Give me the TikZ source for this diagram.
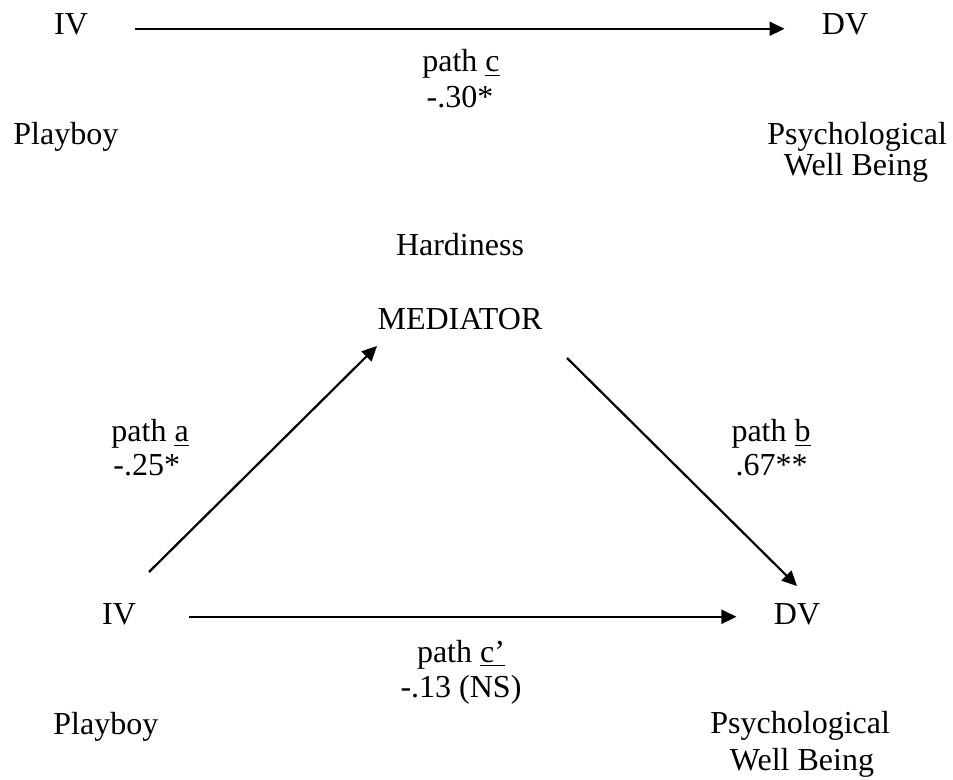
\documentclass[tikz,border=0pt]{standalone}
\usepackage{fontspec}
\setmainfont{Liberation Serif}
\usepackage{tikz}
\usetikzlibrary {arrows.meta}

\begin{document}
\begin{tikzpicture}[x=0.5pt,y=-0.5pt,
  lbl/.style={inner sep=0pt,anchor=base,font=\fontsize{16}{19}\selectfont},
  lblL/.style={lbl,anchor=base west},
  lblR/.style={lbl,anchor=base east},
  arr/.style={line width=1.1pt,-{Triangle[length=7.5pt,width=7pt]}}]
\useasboundingbox (0,0) rectangle (953,780);
% total effect
\path (71,35) node[lbl] (ivTop) {IV};
\path (845,35) node[lbl] (dvTop) {DV};
\path (461,72) node[lbl] (pathC) {path \underline{c}};
\path (460,108) node[lbl] (valC) {-.30*};
\path (13,145) node[lblL] (ivTopName) {Playboy};
\path (767,145) node[lblL] (dvTopName) {Psychological};
\path (856,176) node[lbl] (dvTopName2) {Well Being};
\draw[arr, shorten <=23.5pt, shorten >=18.5pt]
  ([yshift=-2pt]ivTop.east) -- ([yshift=-2pt]dvTop.west);
% mediated model
\path (460,256) node[lbl] (medName) {Hardiness};
\path (460,330) node[lbl] (med) {MEDIATOR};
\path (111,442) node[lblL] (pathA) {path \underline{a}};
\path (113,475) node[lblL] (valA) {-.25*};
\path (811,442) node[lblR] (pathB) {path \underline{b}};
\path (808,475) node[lblR] (valB) {.67**};
\path (119,624) node[lbl] (ivBot) {IV};
\path (797,624) node[lbl] (dvBot) {DV};
\path (461,662) node[lbl] (pathCp) {path \underline{c'}};
\path (461,697) node[lbl] (valCp) {-.13 (NS)};
\path (53,734) node[lblL] (ivBotName) {Playboy};
\path (710,733) node[lblL] (dvBotName) {Psychological};
\path (802,770) node[lbl] (dvBotName2) {Well Being};
\coordinate (aFrom) at (149,572);
\coordinate (aTo) at (377,346);
\coordinate (bFrom) at (567,358);
\coordinate (bTo) at (797,586);
\draw[arr] (aFrom) -- (aTo);
\draw[arr] (bFrom) -- (bTo);
\draw[arr, shorten <=26.5pt, shorten >=18.5pt]
  ([yshift=-1.5pt]ivBot.east) -- ([yshift=-1.5pt]dvBot.west);
\end{tikzpicture}
\end{document}
